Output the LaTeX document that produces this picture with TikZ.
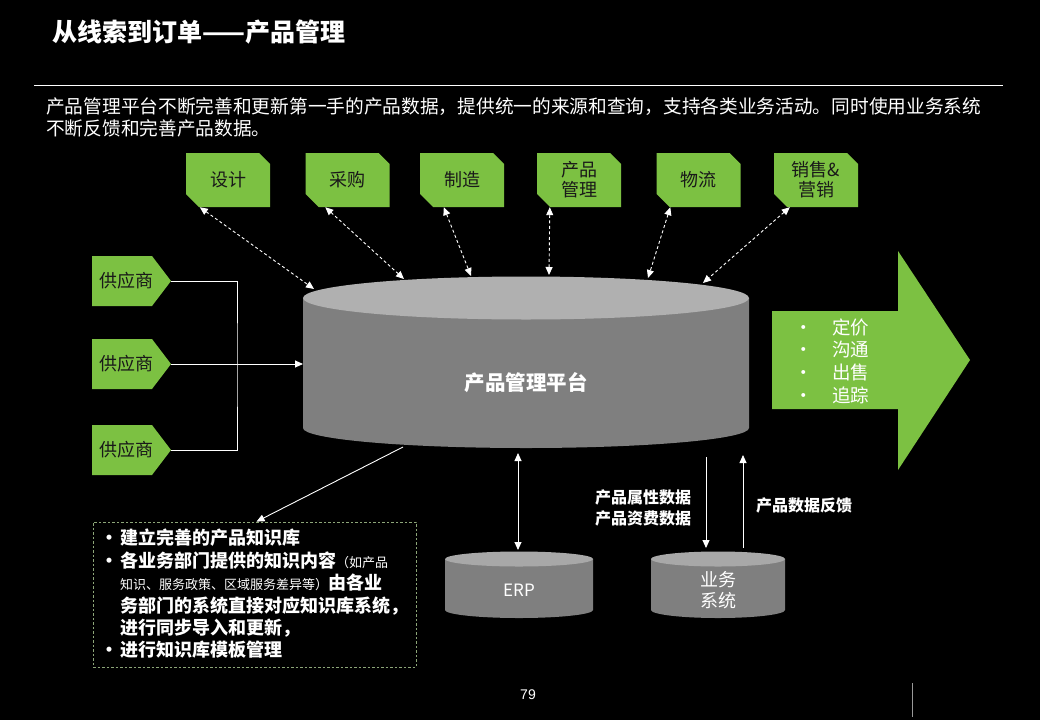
\documentclass[tikz,border=0pt]{standalone}
\usepackage{fontspec}
\setmainfont{Noto Sans CJK SC}
\newfontfamily\arialfont{Liberation Sans}
\usetikzlibrary{arrows.meta,calc}
\definecolor{gr}{RGB}{124,193,66}
\definecolor{cylbody}{RGB}{127,127,127}
\definecolor{cyltop}{RGB}{176,176,176}
\definecolor{smtop}{RGB}{168,168,168}
\definecolor{dashc}{RGB}{140,165,120}
\definecolor{darktext}{RGB}{25,25,25}
\begin{document}
\begin{tikzpicture}[x=1pt,y=-1pt,
  conn/.style={white,line width=0.9pt},
  dsh/.style={white,line width=0.9pt,dash pattern=on 3pt off 2.5pt,{Triangle[length=8pt,width=7pt]}-{Triangle[length=8pt,width=7pt]}},
  topbox/.style={minimum width=84pt,minimum height=54pt,inner sep=0pt,text=darktext,align=center,
    font=\fontsize{18}{20}\selectfont,
    path picture={\fill[gr] (path picture bounding box.north west)
      -- ([xshift=-11pt]path picture bounding box.north east)
      -- ([yshift=-11pt]path picture bounding box.north east)
      -- (path picture bounding box.south east)
      -- ([xshift=13pt]path picture bounding box.south west)
      -- ([yshift=13pt]path picture bounding box.south west) -- cycle;}},
  supplier/.style={minimum width=79pt,minimum height=50pt,inner sep=0pt,text=darktext,
    font=\fontsize{18}{20}\selectfont,
    path picture={\fill[gr] (path picture bounding box.north west)
      -- ([xshift=-19pt]path picture bounding box.north east)
      -- (path picture bounding box.east)
      -- ([xshift=-19pt]path picture bounding box.south east)
      -- (path picture bounding box.south west) -- cycle;}},
  wtext/.style={text=white,inner sep=0pt},
]
\useasboundingbox (0,0) rectangle (1040,720);
\fill[black] (0,0) rectangle (1040,720);

% title and header
\node[wtext,anchor=west,font=\fontsize{25}{27}\selectfont\bfseries] (title) at (52,32) {从线索到订单——产品管理};
\draw[white,line width=0.8pt] (34,85) -- (1003,85);
\node[wtext,anchor=west,align=left,font=\fontsize{18.7}{22}\selectfont] (sub) at (46,117)
  {产品管理平台不断完善和更新第一手的产品数据，提供统一的来源和查询，支持各类业务活动。同时使用业务系统\\不断反馈和完善产品数据。};

% top boxes
\node[topbox] (b1) at (228,180) {设计};
\node[topbox] (b2) at (347.5,180) {采购};
\node[topbox] (b3) at (462,180) {制造};
\node[topbox] (b4) at (579,180) {产品\\管理};
\node[topbox] (b5) at (698.5,180) {物流};
\node[topbox] (b6) at (816,180) {销售\&\\营销};

% suppliers
\node[supplier] (s1) at (131.5,281) {\hspace*{-10pt}供应商};
\node[supplier] (s2) at (131.5,364) {\hspace*{-10pt}供应商};
\node[supplier] (s3) at (131.5,450) {\hspace*{-10pt}供应商};

% main cylinder
\fill[cylbody] (303,298) -- (303,428) arc[start angle=180,end angle=360,x radius=223pt,y radius=20pt] -- (749,298) -- cycle;
\fill[cyltop] (526,298) ellipse[x radius=223pt,y radius=21.5pt];
\node[wtext,font=\fontsize{20.5}{22}\selectfont\bfseries] (plat) at (526,383) {产品管理平台};
\coordinate (pL) at (303,364);
\coordinate (t1) at (314,289);
\coordinate (t2) at (404,279);
\coordinate (t3) at (471,276);
\coordinate (t4) at (549,275);
\coordinate (t5) at (648,278);
\coordinate (t6) at (703,283);
\coordinate (pBkb) at (403,447);
\coordinate (pBerp) at (518,453);
\coordinate (pBdn) at (706,457);
\coordinate (pBup) at (743,455);

% small cylinders
\fill[cylbody] (445,559) -- (445,610) arc[start angle=180,end angle=360,x radius=74pt,y radius=8pt] -- (593,559) -- cycle;
\fill[smtop] (519,559) ellipse[x radius=74pt,y radius=7.5pt];
\node[wtext,font=\fontsize{17}{20}\selectfont] (erp) at (519,590) {ERP};
\coordinate (erpT) at (518,550);

\fill[cylbody] (651,559) -- (651,610) arc[start angle=180,end angle=360,x radius=67pt,y radius=8pt] -- (785,559) -- cycle;
\fill[smtop] (718,559) ellipse[x radius=67pt,y radius=7.5pt];
\node[wtext,align=center,font=\fontsize{18}{21}\selectfont] (yw) at (718,590) {业务\\系统};
\coordinate (ywA) at (706,548);
\coordinate (ywB) at (743,548);

% big green arrow
\fill[gr] (772,311) -- (898,311) -- (898,251) -- (970,360) -- (898,470) -- (898,409) -- (772,409) -- cycle;
\node[wtext,anchor=west,align=left,font=\fontsize{18.5}{22.7}\selectfont] (outl) at (794,361)
  {\makebox[38pt][l]{•}定价\\\makebox[38pt][l]{•}沟通\\\makebox[38pt][l]{•}出售\\\makebox[38pt][l]{•}追踪};

% knowledge box
\node[draw=dashc,dash pattern=on 2.5pt off 2pt,line width=0.8pt,minimum width=323pt,minimum height=145pt,inner sep=0pt] (kb) at (254.5,594.5) {};
\node[wtext,anchor=north west,align=left,font=\fontsize{18}{22.4}\selectfont\bfseries] (kbt) at (100,529)
  {\makebox[20pt][l]{•}建立完善的产品知识库\\
   \makebox[20pt][l]{•}各业务部门提供的知识内容{\mdseries\fontsize{13}{22.4}\selectfont （如产品}\\
   \hspace*{20pt}{\mdseries\fontsize{13}{22.4}\selectfont 知识、服务政策、区域服务差异等）}由各业\\
   \hspace*{20pt}务部门的系统直接对应知识库系统，\\
   \hspace*{20pt}进行同步导入和更新，\\
   \makebox[20pt][l]{•}进行知识库模板管理};

% labels
\node[wtext,align=center,font=\fontsize{16}{21}\selectfont\bfseries] (lab1) at (643,508) {产品属性数据\\产品资费数据};
\node[wtext,font=\fontsize{16}{20}\selectfont\bfseries] (lab2) at (804,505) {产品数据反馈};

% connectors
\draw[dsh] ([xshift=14pt]b1.south west) -- (t1);
\draw[dsh] ([xshift=20pt]b2.south west) -- (t2);
\draw[dsh] ([xshift=24pt]b3.south west) -- (t3);
\draw[dsh] ([xshift=13pt]b4.south west) -- (t4);
\draw[dsh] ([xshift=14pt]b5.south west) -- (t5);
\draw[dsh] ([xshift=16pt]b6.south west) -- (t6);

\coordinate (jn) at (237,364);
\draw[conn] (s1.east) -| (jn) |- (s3.east);
\draw[conn,-{Triangle[length=8pt,width=7pt]}] (s2.east) -- (pL);

\draw[conn,-{Triangle[length=8pt,width=7pt]}] (pBkb) -- ([xshift=2pt]kb.north);
\draw[conn,{Triangle[length=8pt,width=7pt]}-{Triangle[length=8pt,width=7pt]}] (pBerp) -- (erpT);
\draw[conn,-{Triangle[length=8pt,width=7pt]}] (pBdn) -- (ywA);
\draw[conn,-{Triangle[length=8pt,width=7pt]}] (ywB) -- (pBup);

% footer
\node[wtext,font=\arialfont\fontsize{14}{16}\selectfont] (pg) at (528,695) {79};
\draw[gray!80,line width=0.8pt] (912,683) -- (912,717);
\end{tikzpicture}
\end{document}
